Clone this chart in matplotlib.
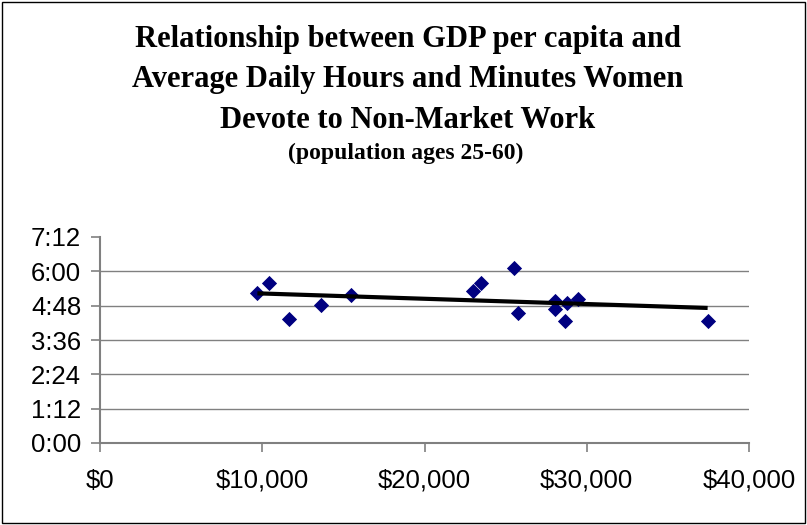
import matplotlib
matplotlib.use("Agg")
import matplotlib.pyplot as plt
from matplotlib.patches import Rectangle
from matplotlib.ticker import FuncFormatter
import numpy as np

# GDP per capita (US$) and average daily minutes women spend on non-market work
gdp = [9700, 10400, 11650, 13650, 15500, 23000, 23500, 25500, 25750,
       28050, 28050, 28800, 28650, 29450, 37450]
minutes = [315, 336, 261, 289, 311, 319, 336, 366, 273,
           298, 281, 294, 256, 303, 256]

y_ticks = [0, 72, 144, 216, 288, 360, 432]
x_ticks = [0, 10000, 20000, 30000, 40000]

title = ("Relationship between GDP per capita and\n"
         "Average Daily Hours and Minutes Women\n"
         "Devote to Non-Market Work")
subtitle = "(population ages 25-60)"

grey = "#808080"

fig = plt.figure(figsize=(8.07, 5.25), dpi=100)
ax = fig.add_axes([100 / 807, 1 - 443 / 525, 649 / 807, 206 / 525])

# frame round the whole chart
fig.patches.append(Rectangle((2 / 807, 2 / 525), 803 / 807, 521 / 525,
                             transform=fig.transFigure, fill=False,
                             edgecolor="black", linewidth=1.0))

fig.text(408 / 807, 1 - 80 / 525, title, ha="center", va="center",
         family="Liberation Serif", fontweight="bold", fontsize=22,
         linespacing=1.52)
fig.text(406 / 807, 1 - 153 / 525, subtitle, ha="center", va="center",
         family="Liberation Serif", fontweight="bold", fontsize=17)

# grid lines (none at the top tick, none at the axis)
for t in y_ticks[1:-1]:
    ax.axhline(t, color=grey, linewidth=1.0, zorder=1)

ax.scatter(gdp, minutes, marker="D", s=60, color="#000080", zorder=3,
           linewidths=0)

# linear trend line
coef = np.polyfit(gdp, minutes, 1)
xs = np.array([min(gdp), max(gdp)])
ax.plot(xs, np.polyval(coef, xs), color="black", linewidth=3, zorder=4,
        solid_capstyle="butt")

ax.set_xlim(0, 40000)
ax.set_ylim(0, 432)
ax.set_xticks(x_ticks)
ax.set_yticks(y_ticks)
ax.xaxis.set_major_formatter(FuncFormatter(lambda v, p: "${:,.0f}".format(v)))
ax.yaxis.set_major_formatter(
    FuncFormatter(lambda v, p: "{}:{:02d}".format(int(v) // 60, int(v) % 60)))

for side in ["top", "right"]:
    ax.spines[side].set_visible(False)
for side in ["left", "bottom"]:
    ax.spines[side].set_color(grey)
    ax.spines[side].set_linewidth(1.5)

ax.tick_params(axis="both", direction="out", length=6.5, width=1.2,
               color=grey, labelsize=18.5)
ax.tick_params(axis="x", pad=12)
ax.tick_params(axis="y", pad=7)
for lab in ax.get_xticklabels() + ax.get_yticklabels():
    lab.set_family("Liberation Sans")

fig.savefig("out.png", dpi=100)
